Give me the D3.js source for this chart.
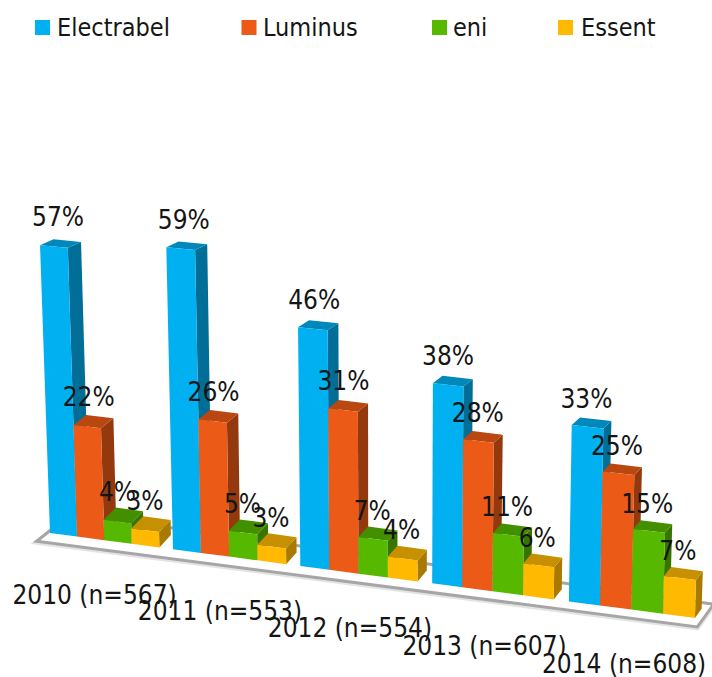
<!DOCTYPE html>
<html><head><meta charset="utf-8">
<script src="https://cdn.jsdelivr.net/npm/d3@7/dist/d3.min.js"></script>
<style>
html,body{margin:0;padding:0;background:#fff;overflow:hidden}
svg{display:block}
text{font-family:"DejaVu Sans Condensed","DejaVu Sans",sans-serif;font-stretch:condensed;font-size:26px;fill:#151515}
text.legend{font-size:25px}
</style></head><body>
<svg id="c" width="712" height="677"></svg>
<script>
// ---- data ----
const years = ["2010 (n=567)","2011 (n=553)","2012 (n=554)","2013 (n=607)","2014 (n=608)"];
const seriesNames = ["Electrabel","Luminus","eni","Essent"];
const electrabel = [57,59,46,38,33];
const luminus    = [22,26,31,28,25];
const eni        = [4,5,7,11,15];
const essent     = [3,3,4,6,7];
const seriesValues = [electrabel,luminus,eni,essent];
const frontColors = ["#00B0F0","#EB5B17","#56B900","#FFB900"];
const sideColors  = ["#006E96","#94380E","#367500","#A87A00"];
const topColors   = ["#0088BA","#B9470F","#429000","#C69000"];
// ---- layout ----
const legendSwatchX = [35,241.5,432,558];
const legendTextX   = [57,263,453,581];
const groupWidth = 0.891, persp = 0.017, spread = 0.18744;
const front = {bl:[50,533],br:[695,618],tl:[39.5,230],tr:[704,293]};
const depth = {bl:[12.5,-13],br:[6.7,-9.3],tl:[13.5,-5.5],tr:[7.5,-5.5]};
const floorCorners = [[-0.04,-0.68],[4.947,-0.85],[4.947,1.6],[0.02,1.5]];

const svg = d3.select("#c");
const groupU = d3.scalePoint().domain(years).range([0,4]);
const barU = d3.scaleBand().domain(seriesNames).range([0,groupWidth]);
const heightV = d3.scaleLinear().domain([0,60]).range([0,1]);
const mix = (a,b,t)=>[a[0]+(b[0]-a[0])*t,a[1]+(b[1]-a[1])*t];
const along = U => spread*U/(1-persp*U);
// corner-pinned perspective box: U along the floor, d into the depth, v upward
function project(U,d,v){
  const t = along(U);
  const fb = mix(front.bl,front.br,t), ft = mix(front.tl,front.tr,t);
  const db = mix(depth.bl,depth.br,t), dt = mix(depth.tl,depth.tr,t);
  const p = mix(fb,ft,v), q = mix(db,dt,v);
  return [p[0]+q[0]*d,p[1]+q[1]*d];
}
const poly = pts => pts.map(p=>p.map(n=>n.toFixed(2)).join(",")).join(" ");

// floor
const floorPts = poly(floorCorners.map(c=>project(c[0],c[1],0)));
svg.append("polygon").attr("points",floorPts).attr("fill","none").attr("stroke","#e4e4e4").attr("stroke-width",5).attr("transform","translate(0,1)");
svg.append("polygon").attr("points",floorPts).attr("fill","#fff").attr("stroke","#a6a6a6").attr("stroke-width",3).attr("stroke-linejoin","miter");

// bars, left to right so nearer bars cover the sides of farther ones
years.forEach((y,i)=>{
  seriesNames.forEach((s,j)=>{
    const val = seriesValues[j][i];
    const u0 = groupU(y)+barU(s), u1 = u0+barU.bandwidth(), v = heightV(val);
    svg.append("polygon").attr("fill",sideColors[j])
      .attr("points",poly([project(u1,0,0),project(u1,1,0),project(u1,1,v),project(u1,0,v)]));
    svg.append("polygon").attr("fill",topColors[j])
      .attr("points",poly([project(u0,0,v),project(u1,0,v),project(u1,1,v),project(u0,1,v)]));
    svg.append("polygon").attr("fill",frontColors[j])
      .attr("points",poly([project(u0,0,0),project(u1,0,0),project(u1,0,v),project(u0,0,v)]));
  });
});

// category labels
years.forEach(y=>{
  const U = groupU(y)+groupWidth/2, p = project(U,0,0);
  svg.append("text").attr("x",p[0]-10+3*along(U)).attr("y",p[1]+63.5).attr("text-anchor","middle").text(y);
});
// value labels
years.forEach((y,i)=>{
  seriesNames.forEach((s,j)=>{
    const val = seriesValues[j][i], U = groupU(y)+barU(s)+barU.bandwidth()/2, v = heightV(val);
    const p = project(U,1,v);
    svg.append("text")
      .attr("x",p[0]-9-3.5*(1-along(U))*(1-v))
      .attr("y",p[1]-8-6.5*v)
      .attr("text-anchor","middle").text(val+"%");
  });
});
// legend
seriesNames.forEach((s,j)=>{
  svg.append("rect").attr("x",legendSwatchX[j]).attr("y",20).attr("width",15).attr("height",15).attr("fill",frontColors[j]);
  svg.append("text").attr("class","legend").attr("x",legendTextX[j]).attr("y",36).text(s);
});
</script>
</body></html>
